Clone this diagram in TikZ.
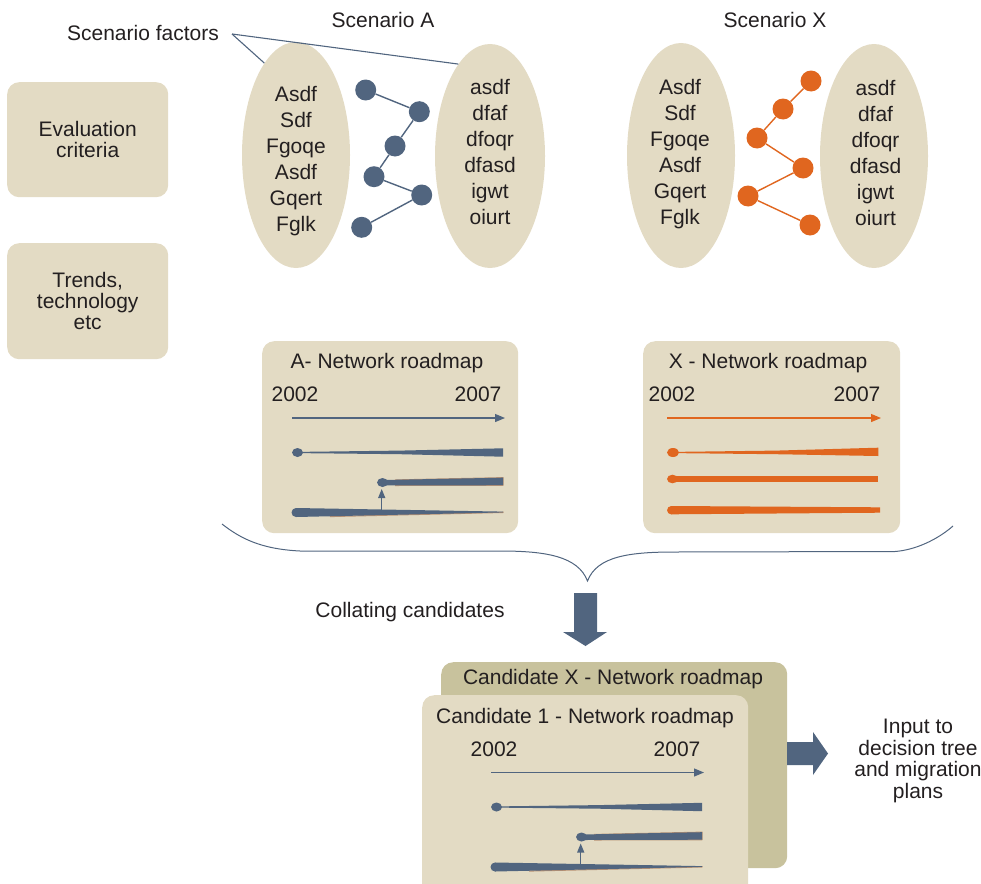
\documentclass[tikz,border=0pt]{standalone}
\usepackage{fontspec}
\setmainfont{Liberation Sans}
\usetikzlibrary{arrows.meta,shapes.geometric}

\definecolor{paper}{HTML}{E3DBC4}
\definecolor{paperdark}{HTML}{C8C29D}
\definecolor{slate}{HTML}{51657F}
\definecolor{rust}{HTML}{E0661F}
\definecolor{ink}{HTML}{231F20}
\definecolor{tanedge}{HTML}{B89274}

\tikzset{
  lbl/.style={font=\fontsize{21}{21}\selectfont, text=ink, inner sep=0pt, anchor=base},
  panel/.style={fill=paper, rounded corners=12pt, anchor=north west, inner sep=0pt},
  sidebox/.style={panel, minimum width=161pt, align=center,
    font=\fontsize{21}{21}\selectfont, text=ink},
  oval/.style={ellipse, fill=paper, inner sep=0pt},
  dotA/.style={circle, fill=slate, minimum size=21pt, inner sep=0pt},
  dotX/.style={circle, fill=rust, minimum size=21pt, inner sep=0pt},
  linkA/.style={slate, line width=1.4pt},
  linkX/.style={rust, line width=1.4pt},
  pointer/.style={slate, line width=1.1pt},
  axis/.style={line width=1.2pt, -{Triangle[length=10pt,width=8pt]}},
  branch/.style={slate, line width=1.2pt, -{Triangle[length=9pt,width=7pt]}},
  brace/.style={slate, line width=1pt},
}

% roadmap drawn in slate: years, time axis, three tracks and a branch arrow
\newcommand\slatemap[1]{%
  \node[lbl] (#1y0) at (295,401.5) {2002};
  \node[lbl] (#1y1) at (478,401.5) {2007};
  \coordinate (#1a0) at (292,418);
  \coordinate (#1a1) at (505,418);
  \draw[slate, axis] (#1a0) -- (#1a1);
  % track 1, widening towards 2007
  \fill[slate] (297.5,452.5) ellipse [x radius=5.5, y radius=4.5];
  \fill[slate] (297.5,451.9) -- (400,450.6) -- (503,448.3) -- (503,456.7)
    -- (400,454.2) -- (297.5,453.1) -- cycle;
  % track 2, starting later
  \draw[tanedge, line width=1.2pt, line join=round] (395,480) -- (503,477.7) -- (503,485.2) -- (395,485.4);
  \fill[slate] (382.5,482.5) ellipse [x radius=5.5, y radius=4.5];
  \fill[slate] (383,480) -- (503,477.7) -- (503,485.2) -- (383,485.5) -- cycle;
  % track 3, narrowing towards 2007
  \draw[tanedge, line width=1.2pt, line join=round] (330,516.5) -- (503,512.4) -- (503,511.6);
  \fill[slate] (296,512.5) circle [radius=4.5];
  \fill[slate] (296,508) -- (503,511.6) -- (503,512.4) -- (296,517) -- cycle;
  % branch from track 3 to track 2
  \coordinate (#1b0) at (381.7,512);
  \coordinate (#1b1) at (381.7,489);
  \draw[branch] (#1b0) -- (#1b1);
}

\begin{document}
\begin{tikzpicture}[x=1pt,y=-1pt]
\useasboundingbox (0,0) rectangle (981,883);
\clip (0,0) rectangle (981,883);

% headings
\node[lbl] (headA) at (383,28) {Scenario A};
\node[lbl] (headX) at (775,28) {Scenario X};
\node[lbl] (factors) at (143,40.5) {Scenario factors};

% side boxes
\node[sidebox, minimum height=115pt] (crit) at (7,82) {Evaluation\\criteria};
\node[sidebox, minimum height=116pt] (trend) at (7,243) {Trends,\\technology\\etc};

% scenario factor ovals
\node[oval, minimum width=108pt, minimum height=226pt] (eAL) at (296,155) {};
\node[oval, minimum width=110pt, minimum height=224pt] (eAR) at (490,156) {};
\node[oval, minimum width=108pt, minimum height=225pt] (eXL) at (681,155.5) {};
\node[oval, minimum width=108pt, minimum height=224pt] (eXR) at (874,156) {};

\foreach \w [count=\i] in {Asdf,Sdf,Fgoqe,Asdf,Gqert,Fglk}
  \node[lbl] (aL\i) at (296,75.5+26*\i) {\w};
\foreach \w [count=\i] in {asdf,dfaf,dfoqr,dfasd,igwt,oiurt}
  \node[lbl] (aR\i) at (490,68+26*\i) {\w};
\foreach \w [count=\i] in {Asdf,Sdf,Fgoqe,Asdf,Gqert,Fglk}
  \node[lbl] (xL\i) at (680,68.5+26*\i) {\w};
\foreach \w [count=\i] in {asdf,dfaf,dfoqr,dfasd,igwt,oiurt}
  \node[lbl] (xR\i) at (875.5,69.5+26*\i) {\w};

% pointer from the label to the ovals
\coordinate (fpt) at (232,34);
\draw[pointer] (fpt) -- (eAL.109);
\draw[pointer] (fpt) -- (eAR.109);

% linked chains
\node[dotA] (dA1) at (365.7,90) {};
\node[dotA] (dA2) at (419.3,111.7) {};
\node[dotA] (dA3) at (395,146) {};
\node[dotA] (dA4) at (374,176.7) {};
\node[dotA] (dA5) at (421.7,195) {};
\node[dotA] (dA6) at (361.7,227.3) {};
\foreach \a/\b in {1/2,2/3,3/4,4/5,5/6} \draw[linkA] (dA\a) -- (dA\b);

\node[dotX] (dX1) at (811,81) {};
\node[dotX] (dX2) at (783,109) {};
\node[dotX] (dX3) at (757,138) {};
\node[dotX] (dX4) at (803,168) {};
\node[dotX] (dX5) at (748,196) {};
\node[dotX] (dX6) at (810,225) {};
\foreach \a/\b in {1/2,2/3,3/4,4/5,5/6} \draw[linkX] (dX\a) -- (dX\b);

% scenario roadmaps
\node[panel, minimum width=256pt, minimum height=192pt] (mapA) at (262,341) {};
\node[panel, minimum width=257pt, minimum height=192pt] (mapX) at (643,341) {};
\node[lbl] (titA) at (387,368.3) {A- Network roadmap};
\node[lbl] (titX) at (768,368.3) {X - Network roadmap};

\slatemap{ma}

% roadmap X in orange
\node[lbl] (mxy0) at (672,401.5) {2002};
\node[lbl] (mxy1) at (857,401.5) {2007};
\coordinate (mxa0) at (667,418);
\coordinate (mxa1) at (881,418);
\draw[rust, axis] (mxa0) -- (mxa1);
\fill[rust] (673,452.5) ellipse [x radius=6, y radius=4.5];
\fill[rust] (673,451.9) -- (776,450.6) -- (878.3,447.7) -- (878.3,456)
  -- (776,454.2) -- (673,453.1) -- cycle;
\fill[rust] (672.5,479) ellipse [x radius=5.5, y radius=4.3];
\fill[rust] (672.5,476) -- (878.3,476) -- (878.3,482.3) -- (672.5,482.3) -- cycle;
\fill[rust] (671.2,510.2) circle [radius=4.15];
\fill[rust] (671.2,506) -- (880,507.3) -- (880,512.7) -- (671.2,514.3) -- cycle;

% brace collecting the roadmaps
\draw[brace] (222,524) .. controls (240,538) and (260,549) .. (300,551)
  -- (500,551) .. controls (545,551) and (578,556) .. (587.5,581)
  .. controls (597,556) and (630,552) .. (675,552)
  -- (895,551.5) .. controls (915,550) and (937,540) .. (953,526);

\node[lbl] (coll) at (410,617.5) {Collating candidates};
\fill[slate] (574,593) -- (597,593) -- (597,632) -- (607,632) -- (585.5,646)
  -- (563,632) -- (574,632) -- cycle;

% candidate roadmaps
\node[panel, fill=paperdark, minimum width=346pt, minimum height=206pt] (candX) at (441,662) {};
\node[panel, minimum width=326pt, minimum height=230pt] (cand1) at (422,695) {};
\node[lbl] (titCX) at (613,684.3) {Candidate X - Network roadmap};
\node[lbl] (titC1) at (585,723.3) {Candidate 1 - Network roadmap};
\begin{scope}[shift={(199,354.5)}]
  \slatemap{mc}
\end{scope}

% output arrow and label
\fill[slate] (787,742) -- (813,742) -- (813,732) -- (828,753.5) -- (813,775)
  -- (813,765) -- (787,765) -- cycle;
\node[lbl] (out1) at (918,733.5) {Input to};
\node[lbl] (out2) at (918,755) {decision tree};
\node[lbl] (out3) at (918,776.5) {and migration};
\node[lbl] (out4) at (918,798) {plans};
\end{tikzpicture}
\end{document}
